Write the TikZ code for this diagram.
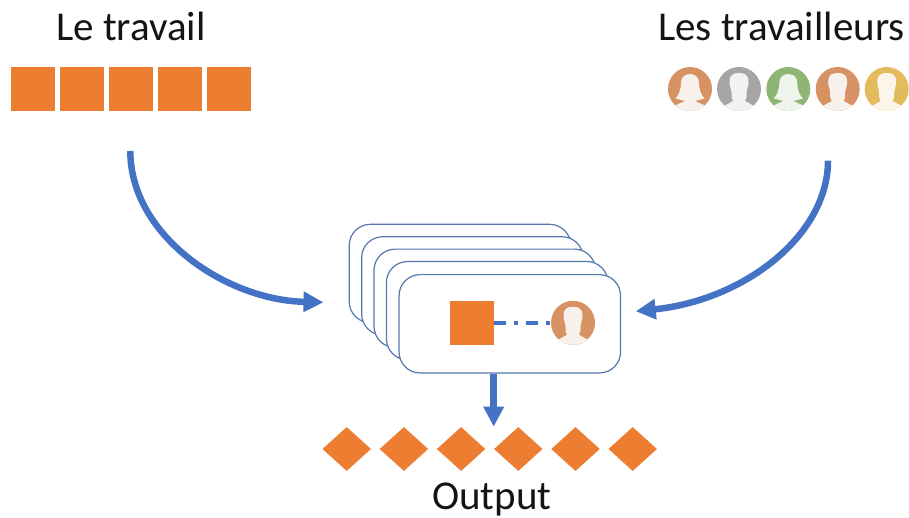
\documentclass[tikz,border=0pt]{standalone}
\usepackage{fontspec}
\setmainfont{Carlito}
\usetikzlibrary{arrows.meta,shapes.geometric}
\definecolor{taskorange}{HTML}{ED7D31}
\definecolor{flowblue}{HTML}{4472C4}
\definecolor{cardline}{HTML}{5577AE}
\definecolor{avorange}{HTML}{D79263}
\definecolor{avorangel}{HTML}{F8F0EB}
\definecolor{avgray}{HTML}{A5A5A5}
\definecolor{avgrayl}{HTML}{F2F2F2}
\definecolor{avgreen}{HTML}{8DB574}
\definecolor{avgreenl}{HTML}{EFF4EC}
\definecolor{avyellow}{HTML}{E4BB5C}
\definecolor{avyellowl}{HTML}{FBF6E9}
\tikzset{
  x=1pt,y=-1pt,
  task/.style={fill=taskorange,draw=none,inner sep=0pt,minimum width=43.8pt,minimum height=43.8pt},
  result/.style={diamond,fill=taskorange,draw=none,inner sep=0pt,minimum width=48.6pt,minimum height=44pt},
  card/.style={draw=cardline,line width=1.2pt,fill=white,rounded corners=21pt,inner sep=0pt,minimum width=221.5pt,minimum height=98.3pt},
  flow/.style={draw=flowblue,line width=6.5pt,-{Triangle[length=20pt,width=19.5pt]}},
  label/.style={font=\fontsize{41}{45}\selectfont,text=black!92,anchor=base,inner sep=0pt},
  face/.style={circle,inner sep=0pt,minimum size=44pt,draw=none},
}
\newcommand{\MaleShape}{
  (-9.5,-7) .. controls (-9.5,-14) and (-6,-16) .. (0,-16)
  .. controls (6,-16) and (9.5,-14) .. (9.5,-7)
  .. controls (9.5,-2) and (7.5,0) .. (7.5,3)
  -- (7.5,8) -- (6,12) -- (15,17) -- (24,22) -- (24,26) -- (-24,26) -- (-24,22) -- (-15,17) -- (-6,12) -- (-7.5,8) -- (-7.5,3)
  .. controls (-7.5,0) and (-9.5,-2) .. (-9.5,-7) -- cycle}
\newcommand{\FemaleShape}{
  (0,-15) .. controls (-6,-15) and (-9,-11) .. (-9,-6)
  .. controls (-9,0) and (-11,6) .. (-14.5,9.5)
  -- (-5,12) -- (-15,16.5) -- (-24,22) -- (-24,26) -- (24,26) -- (24,22) -- (15,16.5) -- (5,12) -- (14.5,9.5)
  .. controls (11,6) and (9,0) .. (9,-6)
  .. controls (9,-11) and (6,-15) .. (0,-15) -- cycle}
\newcommand{\Avatar}[6]{% name, x, y, dark, light, shape
  \node[face,fill=#4] (#1) at (#2,#3) {};
  \begin{scope}[shift={(#2,#3)}]
    \clip (0,0) circle[radius=22pt];
    \fill[#5] #6;
  \end{scope}
}
\begin{document}
\begin{tikzpicture}
\useasboundingbox (0,0) rectangle (909,518);
% labels
\node[label] (lblwork) at (131,40.3) {Le travail};
\node[label] (lblworkers) at (781.5,40.3) {Les travailleurs};
\node[label] (lbloutput) at (491.7,509.5) {Output};
% task row
\node[task] (t1) at (32.9,89) {};
\node[task] (t2) at (82,89) {};
\node[task] (t3) at (131,89) {};
\node[task] (t4) at (180.3,89) {};
\node[task] (t5) at (229.1,89) {};
% worker row
\Avatar{w1}{690}{89}{avorange}{avorangel}{\FemaleShape}
\Avatar{w2}{739}{89}{avgray}{avgrayl}{\MaleShape}
\Avatar{w3}{788.3}{89}{avgreen}{avgreenl}{\FemaleShape}
\Avatar{w4}{837.7}{89}{avorange}{avorangel}{\MaleShape}
\Avatar{w5}{886.7}{89}{avyellow}{avyellowl}{\MaleShape}
% cards
\node[card] (c1) at (460,273.5) {};
\node[card] (c2) at (472.4,285.9) {};
\node[card] (c3) at (484.8,298.3) {};
\node[card] (c4) at (497.2,310.7) {};
\node[card] (c5) at (509.8,323.8) {};
% assignment
\node[task] (job) at (471.8,322.8) {};
\Avatar{who}{573}{322.8}{avorange}{avorangel}{\MaleShape}
\draw[flowblue,line width=3.5pt,dash pattern=on 12pt off 8pt on 4pt off 8pt] (job.east) -- (who.west);
% connectors
\coordinate (ls) at (130.3,151);
\coordinate (le) at (323.5,302.3);
\coordinate (rs) at (828,160.7);
\coordinate (re) at (635.7,311.3);
\coordinate (de) at (493.7,426.7);
\draw[flow] (ls) .. controls (130.3,235) and (225,300) .. (le);
\draw[flow] (rs) .. controls (828,235) and (745,300) .. (re);
\draw[flow] (c5.south -| de) -- (de);
% outputs
\node[result] (d1) at (346.7,449) {};
\node[result] (d2) at (403.9,449) {};
\node[result] (d3) at (461.1,449) {};
\node[result] (d4) at (518.3,449) {};
\node[result] (d5) at (575.5,449) {};
\node[result] (d6) at (632.7,449) {};
\end{tikzpicture}
\end{document}
